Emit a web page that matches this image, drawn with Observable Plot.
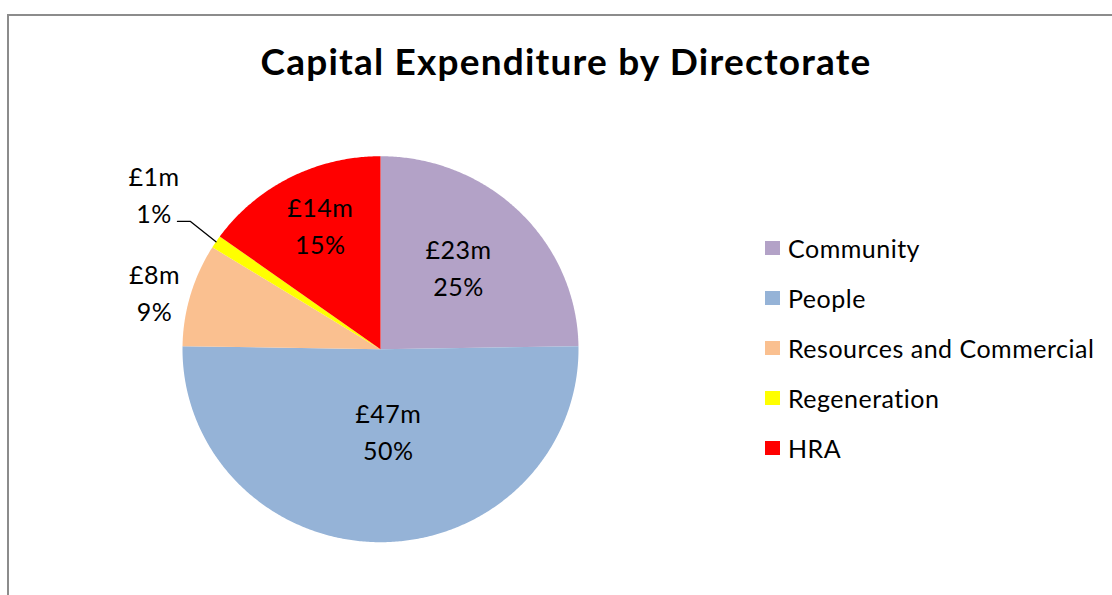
<!DOCTYPE html>
<html><head><meta charset="utf-8">
<script src="https://cdn.jsdelivr.net/npm/d3@7"></script>
<script src="https://cdn.jsdelivr.net/npm/@observablehq/plot@0.6"></script>
<style>
body{margin:0;background:#fff;font-family:Lato,"Open Sans",sans-serif;}
#wrap{position:relative;width:1112px;height:595px;overflow:hidden;background:#fff;}
#frame{position:absolute;left:7px;top:14px;width:1200px;height:700px;border:2px solid #8c8c8c;box-sizing:border-box;}
#title{position:absolute;left:0;width:1132px;top:42px;text-align:center;font-weight:bold;font-size:37px;line-height:37px;letter-spacing:1.2px;color:#000;font-family:Lato,sans-serif;white-space:nowrap;}
#chart{position:absolute;left:0;top:0;}
#chart text{letter-spacing:0.5px;}
#legend{position:absolute;left:765px;top:223px;}
.lg-swatches{font-family:Lato,sans-serif;font-size:25px;letter-spacing:0.5px;color:#000;margin:0;}
.lg-swatch{height:50px;display:flex;align-items:center;padding:0;margin:0;}
.lg-swatch svg{margin-right:8px;}
</style>
</head><body>
<div id="wrap">
  <div id="frame"></div>
  <div id="title">Capital Expenditure by Directorate</div>
  <div id="chart"></div>
  <div id="legend"></div>
</div>
<script>
// ---- data ----
const names = ["Community", "People", "Resources and Commercial", "Regeneration", "HRA"];
const values = [23.0, 46.9, 8.0, 1.0, 14.0]; // £m
const colors = ["#B3A2C7", "#95B3D7", "#FAC090", "#FFFF00", "#FF0000"];

// ---- layout ----
const W = 1112, H = 595;
const cx = 380, cy = 348.7, rx = 198, ry = 193;
// label placement (radius as fraction of pie radius, angular shift in degrees)
const labelRadius = [0.569, 0.437, 1.176, 1.39, 0.70];
const labelShift = [-0.7, -5.2, -2.5, 0.8, 1.4];

const total = d3.sum(values);
const arcs = d3.pie().sort(null).value(d => d)(values);

const polys = [];
arcs.forEach((a, i) => {
  polys.push({name: names[i], x: 0, y: 0});
  const n = Math.max(4, Math.ceil((a.endAngle - a.startAngle) / (Math.PI / 360)));
  for (let k = 0; k <= n; k++) {
    const t = a.startAngle + (a.endAngle - a.startAngle) * k / n;
    polys.push({name: names[i], x: Math.sin(t), y: Math.cos(t)});
  }
});

const labels = arcs.map((a, i) => {
  const m = (a.startAngle + a.endAngle) / 2 + labelShift[i] * Math.PI / 180;
  return {
    name: names[i],
    x: labelRadius[i] * Math.sin(m),
    y: labelRadius[i] * Math.cos(m),
    text: "£" + Math.round(values[i]) + "m\n" + Math.round(values[i] / total * 100) + "%"
  };
});

// leader line for Regeneration (small slice)
const ri = names.indexOf("Regeneration");
const rm = (arcs[ri].startAngle + arcs[ri].endAngle) / 2;
const rl = labels[ri];
const leader = [
  {x: rl.x + 23.5 / rx, y: rl.y - 24.6 / ry},
  {x: rl.x + 36.5 / rx, y: rl.y - 24.6 / ry},
  {x: Math.sin(rm), y: Math.cos(rm)}
];

const chart = Plot.plot({
  width: W, height: H,
  margin: 0,
  x: {domain: [-cx / rx, (W - cx) / rx], range: [0, W], axis: null},
  y: {domain: [-(H - cy) / ry, cy / ry], range: [H, 0], axis: null},
  color: {type: "ordinal", domain: names, range: colors},
  style: {background: "transparent", fontFamily: "Lato, sans-serif"},
  marks: [
    Plot.line(polys, {x: "x", y: "y", z: "name", fill: "name", stroke: "none"}),
    Plot.line(leader, {x: "x", y: "y", stroke: "black", strokeWidth: 1.3}),
    Plot.text(labels, {x: "x", y: "y", dy: -4, text: "text", fontSize: 25, lineHeight: 37 / 25, fill: "black"})
  ]
});
document.getElementById("chart").appendChild(chart);

const legend = Plot.legend({
  color: {type: "ordinal", domain: names, range: colors},
  legend: "swatches",
  columns: 1,
  swatchWidth: 15,
  swatchHeight: 14,
  className: "lg"
});
document.getElementById("legend").appendChild(legend);
</script>
</body></html>
